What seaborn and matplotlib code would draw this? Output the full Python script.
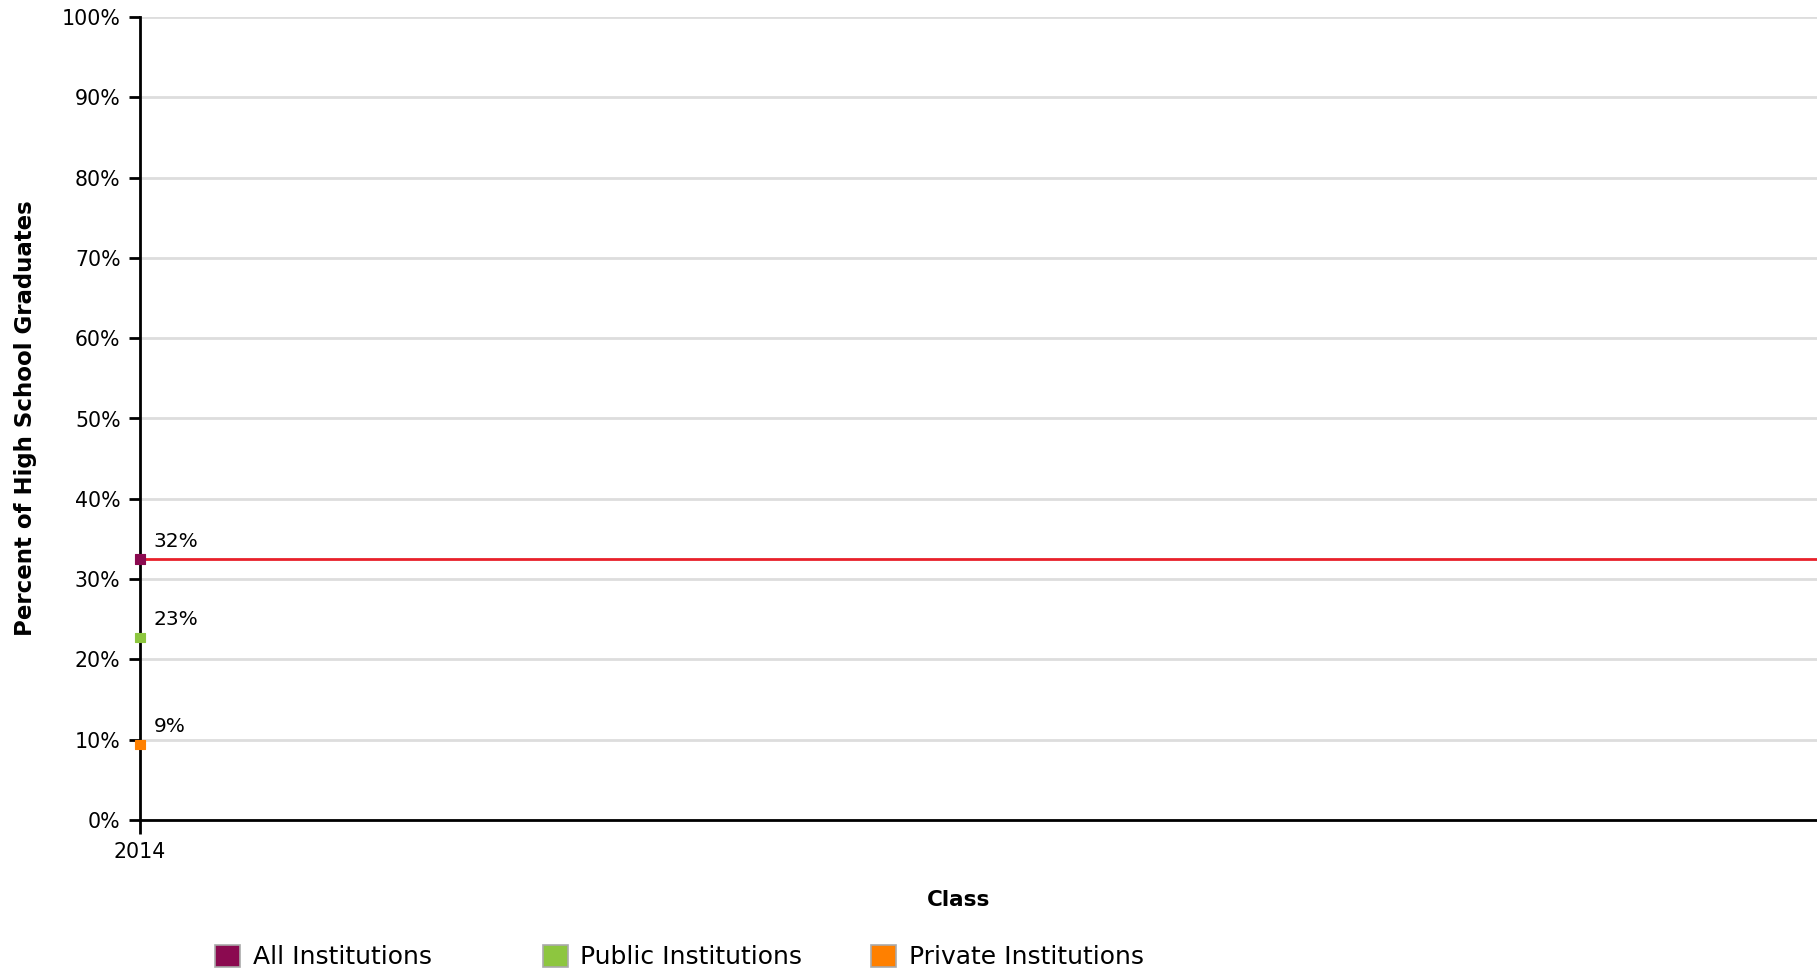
import numpy as np
import pandas as pd
import matplotlib
matplotlib.use("Agg")
import matplotlib.pyplot as plt
import seaborn as sns
from matplotlib.patches import Patch

# --- data ---
years = [2014]
series = ["All Institutions", "Public Institutions", "Private Institutions"]
all_inst = [32.5]
public_inst = [22.7]
private_inst = [9.4]
labels = ["32%", "23%", "9%"]

colors = ["#8B0A50", "#8DC63F", "#FF8000"]
line_color = "#E8202A"

df = pd.DataFrame({
    "Class": years * 3,
    "Value": all_inst + public_inst + private_inst,
    "Series": [s for s in series for _ in years],
})

sns.set_style("white")
plt.rcParams["font.family"] = ["DejaVu Sans"]
plt.rcParams["text.color"] = "black"
plt.rcParams["axes.labelcolor"] = "black"
plt.rcParams["xtick.color"] = "black"
plt.rcParams["ytick.color"] = "black"

fig = plt.figure(figsize=(18.17, 9.72), dpi=100)
ax = fig.add_axes([140 / 1817, 1 - 820 / 972, 1 - 140 / 1817, (820 - 17) / 972])

# average line for all institutions
ax.axhline(all_inst[0], color=line_color, lw=2, zorder=3)

sns.scatterplot(data=df, x="Class", y="Value", hue="Series", palette=colors,
                marker="s", s=45, linewidth=0.8, edgecolor=None, legend=False,
                ax=ax, zorder=5, clip_on=False)

for v, lab in zip([all_inst[0], public_inst[0], private_inst[0]], labels):
    ax.annotate(lab, (years[0], v), xytext=(10, 6), textcoords="offset points",
                fontsize=14.5, ha="left", va="bottom")

ax.set_xlim(2014, 2025)
ax.set_ylim(0, 100)
ax.set_yticks(np.arange(0, 101, 10))
ax.set_yticklabels([f"{t}%" for t in range(0, 101, 10)])
ax.set_xticks(years)
ax.set_xticklabels([str(y) for y in years])
ax.yaxis.grid(True, color="#dddddd", lw=2)
ax.set_axisbelow(True)

for s in ["top", "right"]:
    ax.spines[s].set_visible(False)
for s in ["left", "bottom"]:
    ax.spines[s].set_color("black")
    ax.spines[s].set_linewidth(2)

ax.tick_params(axis="y", which="both", direction="out", length=8, width=2,
               labelsize=14.8, left=True, pad=6)
ax.tick_params(axis="x", which="both", direction="out", length=10, width=2,
               labelsize=14.8, bottom=True, pad=6)

ax.set_ylabel("Percent of High School Graduates", fontsize=16.5, fontweight="bold")
ax.yaxis.set_label_coords(-(140 - 26) / 1677, 0.5)
ax.set_xlabel("Class", fontsize=15.5, fontweight="bold")
ax.xaxis.set_label_coords((959 - 140) / (1817 - 140), -(900 - 820) / 803)
ax.xaxis.label.set_va("center")
ax.yaxis.label.set_va("center")

# legend entries sit on a fixed pitch, one small legend per entry
for i, (c, name) in enumerate(zip(colors, series)):
    h = Patch(facecolor=c, edgecolor="#aaaaaa", lw=1.2)
    fig.legend([h], [name], loc="center left",
               bbox_to_anchor=((215 + i * 328) / 1817, 1 - 957 / 972),
               frameon=False, fontsize=18, handlelength=1.0, handleheight=1.0,
               handletextpad=0.5, borderpad=0, borderaxespad=0)

fig.savefig("out.png", dpi=100)
